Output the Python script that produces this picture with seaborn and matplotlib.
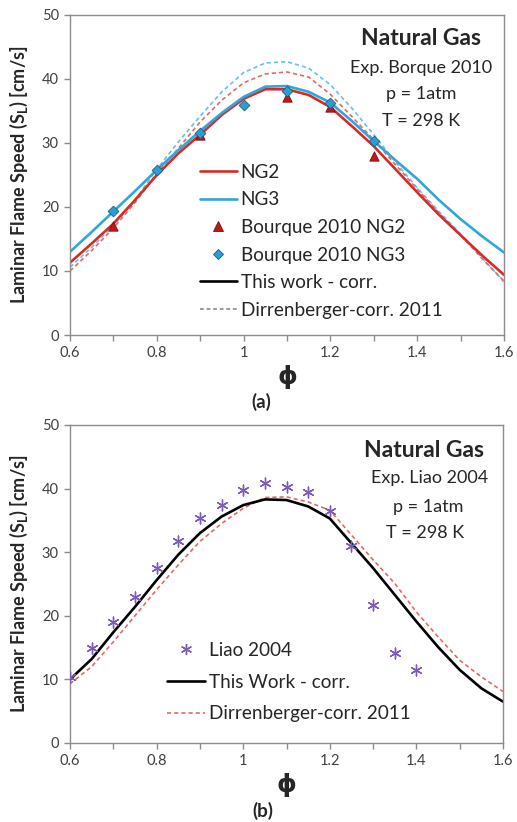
import numpy as np
import pandas as pd
import seaborn as sns
import matplotlib
matplotlib.use("Agg")
import matplotlib.pyplot as plt
from matplotlib.lines import Line2D

# ---------------------------------------------------------------- data
phi = [0.60, 0.65, 0.70, 0.75, 0.80, 0.85, 0.90, 0.95, 1.00, 1.05, 1.10,
       1.15, 1.20, 1.25, 1.30, 1.35, 1.40, 1.45, 1.50, 1.55, 1.60]

# (a) correlations, NG2 / NG3
ng2_this = [11.3, 14.3, 17.4, 21.1, 25.0, 28.4, 31.3, 34.4, 36.9, 38.4, 38.4,
            37.5, 35.6, 32.6, 29.5, 25.9, 22.3, 18.8, 15.6, 12.4, 9.4]
ng3_this = [13.0, 16.1, 19.3, 22.5, 25.8, 28.9, 31.9, 34.7, 37.2, 38.8, 38.9,
            38.0, 36.3, 33.4, 30.3, 27.3, 24.4, 21.1, 18.1, 15.4, 12.9]
ng2_dirr = [10.0, 13.2, 16.7, 20.7, 25.2, 29.2, 33.3, 36.7, 39.4, 40.8, 41.1,
            40.3, 37.6, 34.1, 30.5, 26.6, 22.8, 19.1, 15.6, 11.9, 8.4]
ng3_dirr = [10.6, 13.7, 17.1, 21.1, 25.9, 30.2, 34.2, 38.0, 41.0, 42.5, 42.7,
            41.7, 39.1, 35.4, 31.3, 27.0, 23.0, 19.3, 15.8, 12.0, 8.3]

# (a) Bourque 2010 measurements
bq_ng2_phi = [0.7, 0.9, 1.1, 1.2, 1.3]
bq_ng2_sl = [17.1, 31.3, 37.2, 35.6, 28.0]
bq_ng3_phi = [0.7, 0.8, 0.9, 1.0, 1.1, 1.2, 1.3]
bq_ng3_sl = [19.3, 25.8, 31.5, 36.0, 38.1, 36.2, 30.3]

# (b) correlations
b_this = [10.0, 13.2, 17.4, 21.4, 25.6, 29.6, 33.0, 35.6, 37.4, 38.3, 38.2,
          37.2, 35.3, 31.4, 27.5, 23.3, 19.1, 15.1, 11.5, 8.6, 6.5]
b_dirr = [9.3, 12.0, 15.9, 20.0, 24.1, 28.0, 31.7, 34.5, 36.9, 38.6, 38.7,
          37.9, 36.6, 32.7, 28.8, 25.1, 20.6, 16.7, 13.0, 10.4, 8.1]

# (b) Liao 2004 measurements
liao_phi = [0.60, 0.65, 0.70, 0.75, 0.80, 0.85, 0.90, 0.95, 1.00, 1.05, 1.10,
            1.15, 1.20, 1.25, 1.30, 1.35, 1.40]
liao_sl = [10.4, 14.9, 19.1, 23.0, 27.5, 31.7, 35.3, 37.4, 39.8, 40.9, 40.3,
           39.5, 36.4, 30.9, 21.7, 14.1, 11.5]

x_ticks = [0.6, 0.8, 1.0, 1.2, 1.4, 1.6]
x_tick_labels = ["0.6", "0.8", "1", "1.2", "1.4", "1.6"]
y_ticks = [0, 10, 20, 30, 40, 50]

# ---------------------------------------------------------------- style
sns.set_theme(style="white")
plt.rcParams["font.family"] = ["Lato", "DejaVu Sans"]
plt.rcParams["mathtext.fontset"] = "custom"
plt.rcParams["mathtext.rm"] = "Lato"
plt.rcParams["mathtext.bf"] = "Lato:bold"

RED = "#d62c28"
BLUE = "#2fa7d9"
RED_D = "#e26a66"
BLUE_D = "#63c2e8"
TXT = "#262626"
TICK = "#404040"
SPINE = "#8c8c8c"

fig = plt.figure(figsize=(5.17, 8.22), dpi=100)
ax_a = fig.add_axes([70 / 517, 1 - 335 / 822, 434 / 517, 320 / 822])
ax_b = fig.add_axes([70 / 517, 1 - 743 / 822, 433 / 517, 318 / 822])

df_a = pd.DataFrame({"phi": phi, "ng2_this": ng2_this, "ng3_this": ng3_this,
                     "ng2_dirr": ng2_dirr, "ng3_dirr": ng3_dirr})
df_b = pd.DataFrame({"phi": phi, "this": b_this, "dirr": b_dirr})


def style_axes(ax):
    ax.set_xlim(0.6, 1.6)
    ax.set_ylim(0, 50)
    ax.set_xticks(x_ticks)
    ax.set_xticklabels(x_tick_labels)
    ax.set_xticks(np.arange(0.7, 1.6, 0.2), minor=True)
    ax.set_yticks(y_ticks)
    for s in ax.spines.values():
        s.set_color(SPINE)
        s.set_linewidth(1.0)
        s.set_visible(True)
    ax.tick_params(axis="both", which="both", direction="out", color=SPINE,
                   length=4, width=1, labelsize=10.5, labelcolor=TICK, pad=4,
                   bottom=True, left=True)
    ax.set_ylabel(r"Laminar Flame Speed (S$_\mathbf{L}$) [cm/s]",
                  fontsize=13, fontweight="bold", color=TXT)
    ax.yaxis.label.set_va("center")
    ax.yaxis.set_label_coords(-0.118, 0.5)
    ax.set_xlabel("ϕ", fontsize=18, fontweight="bold", color=TXT,
                  family=["DejaVu Sans"])
    ax.xaxis.label.set_va("center")


# ---------------------------------------------------------------- (a)
sns.lineplot(data=df_a, x="phi", y="ng3_dirr", ax=ax_a, color=BLUE_D, lw=1.2,
             linestyle=(0, (2.5, 1.8)))
sns.lineplot(data=df_a, x="phi", y="ng2_dirr", ax=ax_a, color=RED_D, lw=1.2,
             linestyle=(0, (2.5, 1.8)))
sns.lineplot(data=df_a, x="phi", y="ng2_this", ax=ax_a, color=RED, lw=1.9)
sns.lineplot(data=df_a, x="phi", y="ng3_this", ax=ax_a, color=BLUE, lw=1.9)
sns.scatterplot(x=bq_ng2_phi, y=bq_ng2_sl, ax=ax_a, marker="^", s=45,
                color="#c01818", edgecolor="#7a0c0c", linewidth=0.6, zorder=5)
sns.scatterplot(x=bq_ng3_phi, y=bq_ng3_sl, ax=ax_a, marker="D", s=30,
                color="#2c9dd4", edgecolor="#1a5f86", linewidth=0.6, zorder=6)
style_axes(ax_a)
ax_a.xaxis.set_label_coords(0.5, -0.131)

handles_a = [
    Line2D([], [], color=RED, lw=1.9),
    Line2D([], [], color=BLUE, lw=1.9),
    Line2D([], [], color="#c01818", marker="^", markersize=7, lw=0,
           markeredgecolor="#7a0c0c", markeredgewidth=0.6),
    Line2D([], [], color="#2c9dd4", marker="D", markersize=5, lw=0,
           markeredgecolor="#1a5f86", markeredgewidth=0.6),
    Line2D([], [], color="black", lw=1.9),
    Line2D([], [], color="#808080", lw=1.1, linestyle=(0, (2.5, 1.8))),
]
labels_a = ["NG2", "NG3", "Bourque 2010 NG2", "Bourque 2010 NG3",
            "This work - corr.", "Dirrenberger-corr. 2011"]
ax_a.legend(handles_a, labels_a, loc="upper left",
            bbox_to_anchor=(0.2995, 0.535), frameon=False, fontsize=13.6,
            handlelength=1.95, handletextpad=0.2, labelspacing=0.56,
            borderpad=0, borderaxespad=0, labelcolor=TXT)

for txt, y, size, weight in [("Natural Gas", 0.928, 16.5, "bold"),
                             ("Exp. Borque 2010", 0.834, 13, "normal"),
                             ("p = 1atm", 0.753, 13, "normal"),
                             ("T = 298 K", 0.669, 13, "normal")]:
    ax_a.text(0.809, y, txt, transform=ax_a.transAxes, ha="center",
              va="center", fontsize=size, fontweight=weight, color=TXT)

# ---------------------------------------------------------------- (b)
sns.lineplot(data=df_b, x="phi", y="dirr", ax=ax_b, color=RED_D, lw=1.2,
             linestyle=(0, (2.5, 1.8)))
sns.lineplot(data=df_b, x="phi", y="this", ax=ax_b, color="black", lw=1.9)
sns.scatterplot(x=liao_phi, y=liao_sl, ax=ax_b, marker=(6, 2, 0), s=60,
                color="#7d5cb8", edgecolor="#7d5cb8", linewidth=1.0, zorder=5)
style_axes(ax_b)
ax_b.xaxis.set_label_coords(0.5, -0.132)

handles_b = [
    Line2D([], [], color="#7d5cb8", marker=(6, 2, 0), markersize=8, lw=0,
           markeredgewidth=1.0),
    Line2D([], [], color="black", lw=1.9),
    Line2D([], [], color=RED_D, lw=1.2, linestyle=(0, (2.5, 1.8))),
]
labels_b = ["Liao 2004", "This Work - corr.", "Dirrenberger-corr. 2011"]
ax_b.legend(handles_b, labels_b, loc="upper left",
            bbox_to_anchor=(0.224, 0.318), frameon=False, fontsize=13.6,
            handlelength=2.0, handletextpad=0.2, labelspacing=0.78,
            borderpad=0, borderaxespad=0, labelcolor=TXT)

for txt, x, y, size, weight in [("Natural Gas", 0.818, 0.921, 16.5, "bold"),
                                ("Exp. Liao 2004", 0.831, 0.833, 13, "normal"),
                                ("p = 1atm", 0.827, 0.742, 13, "normal"),
                                ("T = 298 K", 0.820, 0.660, 13, "normal")]:
    ax_b.text(x, y, txt, transform=ax_b.transAxes, ha="center",
              va="center", fontsize=size, fontweight=weight, color=TXT)

fig.text(261 / 517, 1 - 402 / 822, "(a)", ha="center", va="center",
         fontsize=13.5, fontweight="bold", color=TXT)
fig.text(263 / 517, 1 - 811 / 822, "(b)", ha="center", va="center",
         fontsize=13.5, fontweight="bold", color=TXT)

fig.savefig("out.png", dpi=100, facecolor="white")
